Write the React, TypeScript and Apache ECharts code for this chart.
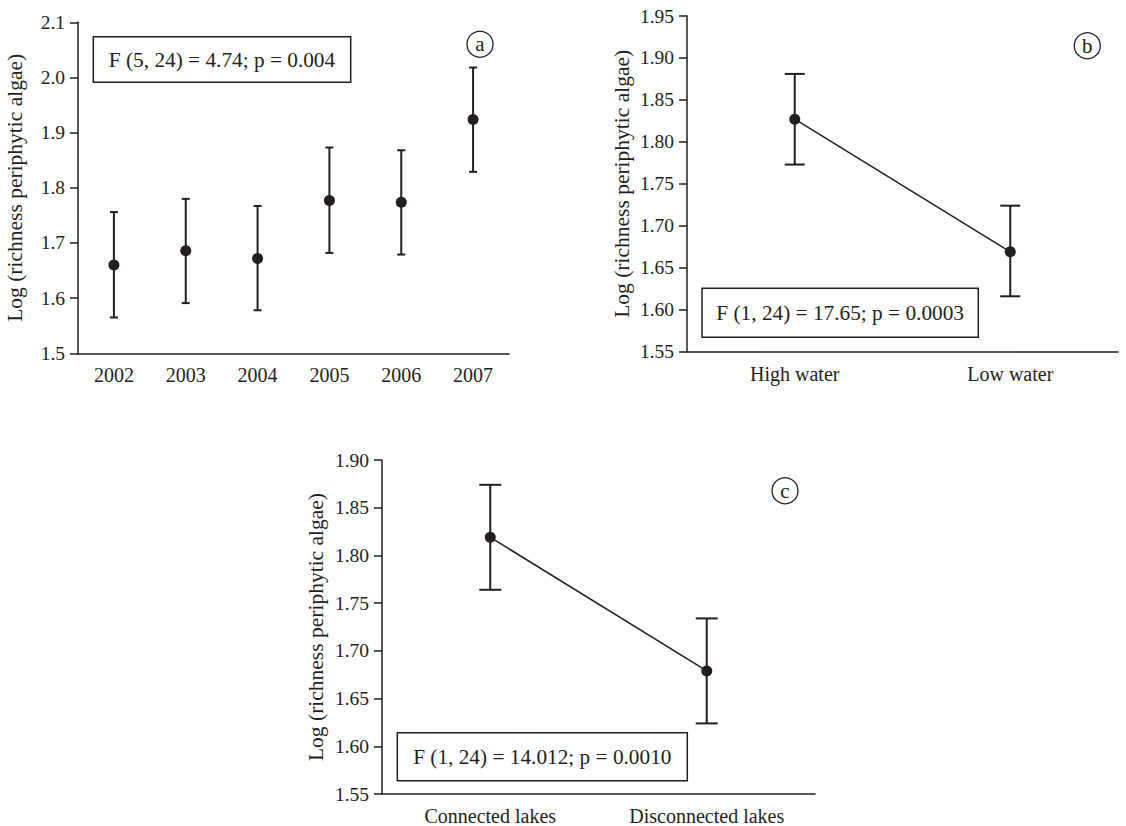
import React, { useEffect, useRef } from "react";
import * as echarts from "echarts";

const yearsA = ["2002", "2003", "2004", "2005", "2006", "2007"];
const meanA = [1.66, 1.686, 1.672, 1.777, 1.774, 1.924];
const lowA = [1.565, 1.591, 1.578, 1.682, 1.679, 1.829];
const highA = [1.756, 1.78, 1.767, 1.873, 1.868, 2.018];

const hydroB = ["High water", "Low water"];
const meanB = [1.827, 1.669];
const lowB = [1.773, 1.616];
const highB = [1.881, 1.724];

const connC = ["Connected lakes", "Disconnected lakes"];
const meanC = [1.819, 1.679];
const lowC = [1.764, 1.624];
const highC = [1.874, 1.734];

const statA = "F (5, 24) = 4.74; p = 0.004";
const statB = "F (1, 24) = 17.65; p = 0.0003";
const statC = "F (1, 24) = 14.012; p = 0.0010";
const yName = "Log (richness periphytic algae)";

const INK = "#231f20";
const FONT = "'Liberation Serif', 'Times New Roman', serif";

function errorBars(idx: number, cats: string[], lo: number[], hi: number[], cap: number) {
  return {
    type: "custom",
    xAxisIndex: idx,
    yAxisIndex: idx,
    z: 2,
    silent: true,
    encode: { x: 0, y: [1, 2] },
    data: cats.map((_, i) => [i, lo[i], hi[i]]),
    renderItem: (params: any, api: any) => {
      const x = api.value(0);
      const a = api.coord([x, api.value(1)]);
      const b = api.coord([x, api.value(2)]);
      const style = { stroke: INK, lineWidth: 2 };
      return {
        type: "group",
        children: [
          { type: "line", shape: { x1: a[0], y1: a[1], x2: b[0], y2: b[1] }, style },
          { type: "line", shape: { x1: b[0] - cap, y1: b[1], x2: b[0] + cap, y2: b[1] }, style },
          { type: "line", shape: { x1: a[0] - cap, y1: a[1], x2: a[0] + cap, y2: a[1] }, style },
        ],
      };
    },
  };
}

function xAx(idx: number, cats: string[]) {
  return {
    type: "category",
    gridIndex: idx,
    data: cats,
    boundaryGap: true,
    axisLine: { lineStyle: { color: INK, width: 1.5 } },
    axisTick: { alignWithLabel: true, length: 8, lineStyle: { color: INK, width: 1.5 } },
    axisLabel: { color: INK, fontSize: 20, fontFamily: FONT, margin: 12 },
    splitLine: { show: false },
  };
}

function yAx(idx: number, min: number, max: number, interval: number, dec: number, gap: number) {
  return {
    type: "value",
    gridIndex: idx,
    min,
    max,
    interval,
    name: yName,
    nameLocation: "middle",
    nameRotate: 90,
    nameGap: gap,
    nameTextStyle: { color: INK, fontSize: 21.5, fontFamily: FONT },
    axisLine: { show: true, lineStyle: { color: INK, width: 1.5 } },
    axisTick: { show: true, length: 8, lineStyle: { color: INK, width: 1.5 } },
    axisLabel: {
      color: INK,
      fontSize: 19.5,
      fontFamily: FONT,
      margin: 13,
      formatter: (v: number) => v.toFixed(dec),
    },
    splitLine: { show: false },
  };
}

function statBox(x: number, y: number, w: number, h: number, text: string) {
  return {
    type: "group",
    children: [
      { type: "rect", shape: { x, y, width: w, height: h }, style: { fill: "#fff", stroke: INK, lineWidth: 1.5 } },
      {
        type: "text",
        x: x + w / 2,
        y: y + h / 2,
        style: { text, fill: INK, fontSize: 21.3, fontFamily: FONT, align: "center", verticalAlign: "middle" },
      },
    ],
  };
}

function letter(cx: number, cy: number, t: string) {
  return {
    type: "group",
    children: [
      { type: "circle", shape: { cx, cy, r: 13 }, style: { fill: "#fff", stroke: INK, lineWidth: 1.3 } },
      {
        type: "text",
        x: cx,
        y: cy,
        style: { text: t, fill: INK, fontSize: 21, fontFamily: FONT, align: "center", verticalAlign: "middle" },
      },
    ],
  };
}

export default function App() {
  const ref = useRef<HTMLDivElement>(null);
  useEffect(() => {
    if (!ref.current) return;
    const chart = echarts.init(ref.current, undefined, { renderer: "svg" });
    const markerStyle = { color: INK, opacity: 1 };
    chart.setOption({
      animation: false,
      backgroundColor: "#fff",
      textStyle: { fontFamily: FONT },
      grid: [
        { left: 78, top: 22.3, width: 431, height: 331 },
        { left: 687, top: 16, width: 431, height: 335.7 },
        { left: 382, top: 460, width: 433, height: 335.7 },
      ],
      xAxis: [xAx(0, yearsA), xAx(1, hydroB), xAx(2, connC)],
      yAxis: [
        yAx(0, 1.5, 2.1, 0.1, 1, 52),
        yAx(1, 1.55, 1.95, 0.05, 2, 54),
        yAx(2, 1.55, 1.9, 0.05, 2, 55),
      ],
      series: [
        errorBars(0, yearsA, lowA, highA, 4),
        {
          type: "scatter",
          xAxisIndex: 0,
          yAxisIndex: 0,
          z: 3,
          symbol: "circle",
          symbolSize: 11,
          itemStyle: markerStyle,
          data: meanA,
        },
        errorBars(1, hydroB, lowB, highB, 10),
        {
          type: "line",
          xAxisIndex: 1,
          yAxisIndex: 1,
          z: 3,
          symbol: "circle",
          symbolSize: 11,
          showSymbol: true,
          itemStyle: markerStyle,
          lineStyle: { color: INK, width: 1.5 },
          data: meanB,
        },
        errorBars(2, connC, lowC, highC, 11),
        {
          type: "line",
          xAxisIndex: 2,
          yAxisIndex: 2,
          z: 3,
          symbol: "circle",
          symbolSize: 11,
          showSymbol: true,
          itemStyle: markerStyle,
          lineStyle: { color: INK, width: 1.5 },
          data: meanC,
        },
      ],
      graphic: [
        statBox(93.3, 36.7, 257.4, 45.6, statA),
        statBox(702, 288.3, 276.3, 49, statB),
        statBox(397.3, 732.7, 290, 48, statC),
        letter(480, 44.3, "a"),
        letter(1087.3, 45.7, "b"),
        letter(785, 490.7, "c"),
      ],
    });
    return () => chart.dispose();
  }, []);
  return (
    <div
      ref={ref}
      style={{ position: "fixed", left: 0, top: 0, width: 1126, height: 826, background: "#fff" }}
    />
  );
}
